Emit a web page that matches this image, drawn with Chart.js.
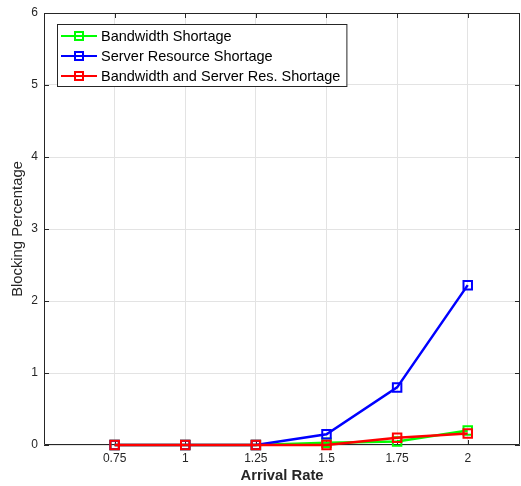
<!DOCTYPE html>
<html>
<head>
<meta charset="utf-8">
<script src="https://cdn.jsdelivr.net/npm/chart.js@4.4.1/dist/chart.umd.min.js"></script>
<style>
    html, body { margin: 0; padding: 0; background: #fff; overflow: hidden; }
    canvas { display: block; }
</style>
</head>
<body>
<canvas id="chart-blocking" width="521" height="486"></canvas>
<script>
const arrivalRates = [0.75, 1, 1.25, 1.5, 1.75, 2];
const xTicks = [0.75, 1, 1.25, 1.5, 1.75, 2];
const yTicks = [0, 1, 2, 3, 4, 5, 6];
const bandwidthShortage = [0, 0, 0, 0.03, 0.05, 0.2];
const serverShortage = [0, 0, 0, 0.15, 0.8, 2.22];
const bothShortage = [0, 0, 0, 0, 0.1, 0.16];

const FONT = "Arial, 'Liberation Sans', Helvetica, sans-serif";

const toPoints = (vals) => vals.map((v, i) => ({ x: arrivalRates[i], y: v }));

// MATLAB-style frame with inward ticks (drawn under the lines)
const framePlugin = {
    id: "frame",
    beforeDatasetsDraw(chart) {
        const ctx = chart.ctx;
        const a = chart.chartArea;
        const sx = chart.scales.x;
        const sy = chart.scales.y;
        ctx.save();
        ctx.strokeStyle = "#262626";
        ctx.lineWidth = 1;
        ctx.beginPath();
        ctx.rect(a.left + 0.5, a.top + 0.5, a.right - a.left - 1, a.bottom - a.top - 1);
        ctx.stroke();
        ctx.beginPath();
        xTicks.forEach((t) => {
            const x = Math.round(sx.getPixelForValue(t)) + 0.5;
            ctx.moveTo(x, a.top);
            ctx.lineTo(x, a.top + 5);
            ctx.moveTo(x, a.bottom);
            ctx.lineTo(x, a.bottom - 5);
        });
        yTicks.forEach((t) => {
            const y = Math.round(sy.getPixelForValue(t)) + 0.5;
            ctx.moveTo(a.left, y);
            ctx.lineTo(a.left + 5, y);
            ctx.moveTo(a.right, y);
            ctx.lineTo(a.right - 5, y);
        });
        ctx.stroke();
        ctx.restore();
    },
};

// legend box inside the axes, top-left
const insideLegend = {
    id: "insideLegend",
    afterDraw(chart) {
        const ctx = chart.ctx;
        const a = chart.chartArea;
        const items = chart.data.datasets;
        ctx.save();
        ctx.font = "14.5px " + FONT;
        const maxW = Math.max(...items.map((d) => ctx.measureText(d.label).width));
        const bx = a.left + 13;
        const by = a.top + 11;
        const bw = 44 + maxW + 6;
        const bh = 62;
        ctx.fillStyle = "#fff";
        ctx.fillRect(bx, by, bw, bh);
        ctx.strokeStyle = "#262626";
        ctx.lineWidth = 1;
        ctx.strokeRect(bx + 0.5, by + 0.5, bw, bh);
        items.forEach((d, i) => {
            const cy = by + 12 + i * 20;
            ctx.strokeStyle = d.borderColor;
            ctx.lineWidth = 2;
            ctx.beginPath();
            ctx.moveTo(bx + 4, cy);
            ctx.lineTo(bx + 40, cy);
            ctx.stroke();
            ctx.strokeRect(bx + 18, cy - 4, 8, 8);
            ctx.fillStyle = "#000";
            ctx.textBaseline = "middle";
            ctx.fillText(d.label, bx + 44, cy + 1);
        });
        ctx.restore();
    },
};

new Chart(document.getElementById("chart-blocking"), {
    type: "line",
    data: {
        datasets: [
            {
                label: "Bandwidth Shortage",
                data: toPoints(bandwidthShortage),
                borderColor: "#00ff00",
                order: 3,
            },
            {
                label: "Server Resource Shortage",
                data: toPoints(serverShortage),
                borderColor: "#0000ff",
                order: 2,
            },
            {
                label: "Bandwidth and Server Res. Shortage",
                data: toPoints(bothShortage),
                borderColor: "#ff0000",
                order: 1,
            },
        ].map((d) => ({
            ...d,
            borderWidth: 2.5,
            pointStyle: "rect",
            pointRadius: 6,
            pointBorderWidth: 2,
            pointBorderColor: d.borderColor,
            pointBackgroundColor: "rgba(0,0,0,0)",
            tension: 0,
            fill: false,
            clip: false,
        })),
    },
    options: {
        responsive: false,
        animation: false,
        layout: {
            autoPadding: false,
            padding: { top: 13, right: 1, left: 0, bottom: 0 },
        },
        plugins: {
            legend: { display: false },
            tooltip: { enabled: false },
        },
        scales: {
            x: {
                type: "linear",
                min: 0.5,
                max: 2.185,
                afterBuildTicks: (scale) => {
                    scale.ticks = xTicks.map((v) => ({ value: v }));
                },
                afterFit: (scale) => {
                    scale.height = 41;
                    scale.paddingLeft = 0;
                    scale.paddingRight = 0;
                },
                ticks: {
                    color: "#262626",
                    font: { family: FONT, size: 12 },
                    padding: 6,
                    maxRotation: 0,
                    callback: (v) => String(v),
                },
                grid: { color: "#e3e3e3", drawTicks: false },
                border: { display: false },
                title: {
                    display: true,
                    text: "Arrival Rate",
                    color: "#262626",
                    font: { family: FONT, size: 14.8, weight: "bold" },
                    padding: { top: 0, bottom: 1 },
                },
            },
            y: {
                min: 0,
                max: 6,
                afterBuildTicks: (scale) => {
                    scale.ticks = yTicks.map((v) => ({ value: v }));
                },
                afterFit: (scale) => {
                    scale.width = 44;
                    scale.paddingTop = 0;
                    scale.paddingBottom = 0;
                },
                ticks: {
                    color: "#262626",
                    font: { family: FONT, size: 12 },
                    padding: 6,
                },
                grid: { color: "#e3e3e3", drawTicks: false },
                border: { display: false },
                title: {
                    display: true,
                    text: "Blocking Percentage",
                    color: "#262626",
                    font: { family: FONT, size: 14.8 },
                    padding: { top: 9, bottom: 0 },
                },
            },
        },
    },
    plugins: [framePlugin, insideLegend],
});
</script>
</body>
</html>
